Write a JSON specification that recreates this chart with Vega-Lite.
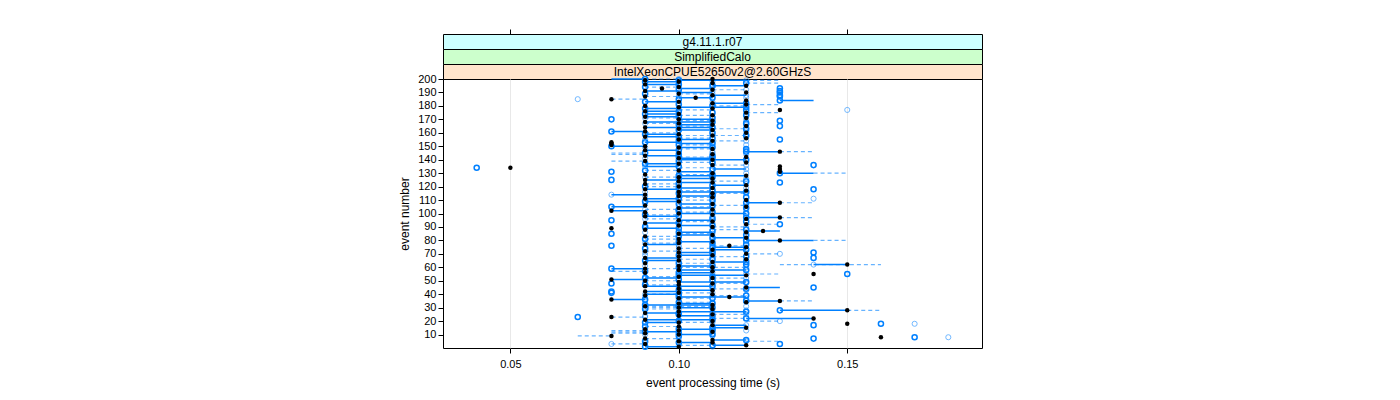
{
"$schema": "https://vega.github.io/schema/vega-lite/v6.json",
"background": "white",
"padding": {"left": 398, "top": 28, "right": 5, "bottom": 5},
"spacing": 0,
"bounds": "flush",
"config": {
  "font": "Liberation Sans",
  "view": {"stroke": "black", "strokeWidth": 1},
  "axis": {"labelFont": "Liberation Sans", "titleFont": "Liberation Sans", "labelColor": "black", "titleColor": "black", "tickColor": "black", "titleFontWeight": "normal", "labelFontSize": 11, "titleFontSize": 12, "domain": false}
},
"datasets": {
"ev": [
{"e":1,"b":0.10,"s":0.09,"d":0.11},{"e":2,"b":0.12,"s":0.11,"d":0.10},{"e":3,"b":0.09,"s":0.13,"d":0.08},{"e":4,"b":0.11,"s":0.10,"d":0.09},{"e":5,"b":0.10,"s":0.09,"d":0.12},
{"e":6,"b":0.11,"s":0.12,"d":0.09},{"e":7,"b":0.09,"s":0.14,"d":0.10},{"e":8,"b":0.16,"s":0.17,"d":0.18},{"e":9,"b":0.08,"s":0.10,"d":0.11},{"e":10,"b":0.10,"s":0.11,"d":0.09},
{"e":11,"b":0.09,"s":0.10,"d":0.11},{"e":12,"b":0.11,"s":0.09,"d":0.10},{"e":13,"b":0.10,"s":0.11,"d":0.12},{"e":14,"b":0.09,"s":0.10,"d":0.11},{"e":15,"b":0.12,"s":0.11,"d":0.10},
{"e":16,"b":0.10,"s":0.09,"d":0.11},{"e":17,"b":0.11,"s":0.14,"d":0.12},{"e":18,"b":0.15,"s":0.16,"d":0.17},{"e":19,"b":0.10,"s":0.09,"d":0.11},{"e":20,"b":0.11,"s":0.10,"d":0.13},
{"e":21,"b":0.09,"s":0.11,"d":0.10},{"e":22,"b":0.14,"s":0.12,"d":0.11},{"e":23,"b":0.08,"s":0.07,"d":0.09},{"e":24,"b":0.10,"s":0.11,"d":0.09},{"e":25,"b":0.11,"s":0.10,"d":0.12},
{"e":26,"b":0.09,"s":0.10,"d":0.11},{"e":27,"b":0.10,"s":0.12,"d":0.11},{"e":28,"b":0.15,"s":0.13,"d":0.12},{"e":29,"b":0.11,"s":0.09,"d":0.10},{"e":30,"b":0.10,"s":0.11,"d":0.09},
{"e":31,"b":0.09,"s":0.10,"d":0.12},{"e":32,"b":0.11,"s":0.09,"d":0.10},{"e":33,"b":0.10,"s":0.11,"d":0.09},{"e":34,"b":0.12,"s":0.10,"d":0.11},{"e":35,"b":0.13,"s":0.12,"d":0.09},
{"e":36,"b":0.08,"s":0.09,"d":0.10},{"e":37,"b":0.10,"s":0.11,"d":0.12},{"e":38,"b":0.115,"s":0.10,"d":0.09},{"e":39,"b":0.09,"s":0.12,"d":0.11},{"e":40,"b":0.11,"s":0.10,"d":0.09},
{"e":41,"b":0.10,"s":0.08,"d":0.11},{"e":42,"b":0.09,"s":0.08,"d":0.10},{"e":43,"b":0.11,"s":0.10,"d":0.12},{"e":44,"b":0.10,"s":0.12,"d":0.11},{"e":45,"b":0.12,"s":0.14,"d":0.10},
{"e":46,"b":0.09,"s":0.11,"d":0.10},{"e":47,"b":0.10,"s":0.09,"d":0.11},{"e":48,"b":0.11,"s":0.08,"d":0.12},{"e":49,"b":0.10,"s":0.12,"d":0.09},{"e":50,"b":0.09,"s":0.11,"d":0.10},
{"e":51,"b":0.08,"s":0.10,"d":0.11},{"e":52,"b":0.11,"s":0.09,"d":0.12},{"e":53,"b":0.10,"s":0.11,"d":0.09},{"e":54,"b":0.12,"s":0.10,"d":0.11},{"e":55,"b":0.14,"s":0.15,"d":0.12},
{"e":56,"b":0.09,"s":0.10,"d":0.11},{"e":57,"b":0.11,"s":0.09,"d":0.10},{"e":58,"b":0.10,"s":0.12,"d":0.11},{"e":59,"b":0.09,"s":0.08,"d":0.10},{"e":60,"b":0.11,"s":0.10,"d":0.12},
{"e":61,"b":0.10,"s":0.11,"d":0.09},{"e":62,"b":0.15,"s":0.12,"d":0.14},{"e":63,"b":0.09,"s":0.10,"d":0.11},{"e":64,"b":0.11,"s":0.12,"d":0.10},{"e":65,"b":0.10,"s":0.09,"d":0.12},
{"e":66,"b":0.12,"s":0.11,"d":0.10},{"e":67,"b":0.09,"s":0.14,"d":0.11},{"e":68,"b":0.10,"s":0.12,"d":0.11},{"e":69,"b":0.11,"s":0.10,"d":0.09},{"e":70,"b":0.12,"s":0.11,"d":0.13},
{"e":71,"b":0.10,"s":0.14,"d":0.09},{"e":72,"b":0.09,"s":0.11,"d":0.10},{"e":73,"b":0.11,"s":0.12,"d":0.10},{"e":74,"b":0.10,"s":0.09,"d":0.12},{"e":75,"b":0.12,"s":0.11,"d":0.10},
{"e":76,"b":0.115,"s":0.08,"d":0.10},{"e":77,"b":0.09,"s":0.12,"d":0.11},{"e":78,"b":0.10,"s":0.11,"d":0.09},{"e":79,"b":0.11,"s":0.10,"d":0.12},{"e":80,"b":0.13,"s":0.12,"d":0.11},
{"e":81,"b":0.10,"s":0.09,"d":0.11},{"e":82,"b":0.12,"s":0.11,"d":0.10},{"e":83,"b":0.09,"s":0.10,"d":0.12},{"e":84,"b":0.11,"s":0.12,"d":0.10},{"e":85,"b":0.10,"s":0.08,"d":0.11},
{"e":86,"b":0.12,"s":0.10,"d":0.09},{"e":87,"b":0.125,"s":0.11,"d":0.10},{"e":88,"b":0.09,"s":0.12,"d":0.11},{"e":89,"b":0.08,"s":0.10,"d":0.09},{"e":90,"b":0.11,"s":0.09,"d":0.12},
{"e":91,"b":0.10,"s":0.11,"d":0.09},{"e":92,"b":0.12,"s":0.13,"d":0.10},{"e":93,"b":0.09,"s":0.10,"d":0.11},{"e":94,"b":0.11,"s":0.12,"d":0.10},{"e":95,"b":0.10,"s":0.08,"d":0.11},
{"e":96,"b":0.12,"s":0.11,"d":0.09},{"e":97,"b":0.13,"s":0.12,"d":0.11},{"e":98,"b":0.09,"s":0.10,"d":0.11},{"e":99,"b":0.11,"s":0.09,"d":0.10},{"e":100,"b":0.10,"s":0.12,"d":0.11},
{"e":101,"b":0.09,"s":0.11,"d":0.10},{"e":102,"b":0.08,"s":0.10,"d":0.12},{"e":103,"b":0.11,"s":0.10,"d":0.09},{"e":104,"b":0.10,"s":0.12,"d":0.11},{"e":105,"b":0.12,"s":0.08,"d":0.10},
{"e":106,"b":0.09,"s":0.11,"d":0.12},{"e":107,"b":0.11,"s":0.10,"d":0.09},{"e":108,"b":0.13,"s":0.12,"d":0.11},{"e":109,"b":0.10,"s":0.09,"d":0.11},{"e":110,"b":0.12,"s":0.11,"d":0.10},
{"e":111,"b":0.09,"s":0.10,"d":0.14},{"e":112,"b":0.11,"s":0.12,"d":0.10},{"e":113,"b":0.10,"s":0.11,"d":0.09},{"e":114,"b":0.09,"s":0.11,"d":0.08},{"e":115,"b":0.11,"s":0.10,"d":0.12},
{"e":116,"b":0.10,"s":0.12,"d":0.09},{"e":117,"b":0.12,"s":0.11,"d":0.10},{"e":118,"b":0.09,"s":0.14,"d":0.11},{"e":119,"b":0.11,"s":0.10,"d":0.12},{"e":120,"b":0.10,"s":0.09,"d":0.11},
{"e":121,"b":0.12,"s":0.11,"d":0.10},{"e":122,"b":0.09,"s":0.10,"d":0.12},{"e":123,"b":0.11,"s":0.13,"d":0.10},{"e":124,"b":0.10,"s":0.12,"d":0.11},{"e":125,"b":0.09,"s":0.08,"d":0.10},
{"e":126,"b":0.11,"s":0.10,"d":0.12},{"e":127,"b":0.10,"s":0.11,"d":0.09},{"e":128,"b":0.12,"s":0.10,"d":0.11},{"e":129,"b":0.09,"s":0.11,"d":0.10},{"e":130,"b":0.11,"s":0.13,"d":0.12},
{"e":131,"b":0.13,"s":0.08,"d":0.10},{"e":132,"b":0.10,"s":0.09,"d":0.11},{"e":133,"b":0.13,"s":0.11,"d":0.12},{"e":134,"b":0.05,"s":0.04,"d":0.10},{"e":135,"b":0.13,"s":0.10,"d":0.09},
{"e":136,"b":0.11,"s":0.14,"d":0.12},{"e":137,"b":0.10,"s":0.09,"d":0.11},{"e":138,"b":0.12,"s":0.11,"d":0.10},{"e":139,"b":0.09,"s":0.10,"d":0.12},{"e":140,"b":0.11,"s":0.12,"d":0.10},
{"e":141,"b":0.10,"s":0.11,"d":0.09},{"e":142,"b":0.12,"s":0.10,"d":0.11},{"e":143,"b":0.09,"s":0.11,"d":0.10},{"e":144,"b":0.11,"s":0.10,"d":0.12},{"e":145,"b":0.10,"s":0.09,"d":0.11},
{"e":146,"b":0.13,"s":0.12,"d":0.11},{"e":147,"b":0.09,"s":0.10,"d":0.12},{"e":148,"b":0.11,"s":0.12,"d":0.10},{"e":149,"b":0.10,"s":0.11,"d":0.09},{"e":150,"b":0.09,"s":0.08,"d":0.11},
{"e":151,"b":0.08,"s":0.10,"d":0.12},{"e":152,"b":0.08,"s":0.11,"d":0.10},{"e":153,"b":0.08,"s":0.09,"d":0.11},{"e":154,"b":0.11,"s":0.10,"d":0.12},{"e":155,"b":0.10,"s":0.13,"d":0.09},
{"e":156,"b":0.12,"s":0.11,"d":0.10},{"e":157,"b":0.09,"s":0.10,"d":0.12},{"e":158,"b":0.11,"s":0.12,"d":0.10},{"e":159,"b":0.10,"s":0.09,"d":0.11},{"e":160,"b":0.12,"s":0.11,"d":0.09},
{"e":161,"b":0.09,"s":0.08,"d":0.12},{"e":162,"b":0.11,"s":0.10,"d":0.12},{"e":163,"b":0.10,"s":0.12,"d":0.11},{"e":164,"b":0.09,"s":0.11,"d":0.10},{"e":165,"b":0.12,"s":0.13,"d":0.10},
{"e":166,"b":0.11,"s":0.10,"d":0.12},{"e":167,"b":0.10,"s":0.12,"d":0.09},{"e":168,"b":0.09,"s":0.11,"d":0.12},{"e":169,"b":0.11,"s":0.13,"d":0.10},{"e":170,"b":0.10,"s":0.08,"d":0.12},
{"e":171,"b":0.12,"s":0.11,"d":0.09},{"e":172,"b":0.09,"s":0.10,"d":0.11},{"e":173,"b":0.11,"s":0.12,"d":0.10},{"e":174,"b":0.10,"s":0.09,"d":0.12},{"e":175,"b":0.12,"s":0.11,"d":0.10},
{"e":176,"b":0.09,"s":0.10,"d":0.12},{"e":177,"b":0.13,"s":0.12,"d":0.15},{"e":178,"b":0.11,"s":0.09,"d":0.10},{"e":179,"b":0.10,"s":0.12,"d":0.11},{"e":180,"b":0.09,"s":0.11,"d":0.12},
{"e":181,"b":0.12,"s":0.10,"d":0.11},{"e":182,"b":0.11,"s":0.12,"d":0.10},{"e":183,"b":0.10,"s":0.09,"d":0.11},{"e":184,"b":0.12,"s":0.13,"d":0.10},{"e":185,"b":0.08,"s":0.10,"d":0.07},
{"e":186,"b":0.105,"s":0.11,"d":0.12},{"e":187,"b":0.09,"s":0.13,"d":0.10},{"e":188,"b":0.11,"s":0.13,"d":0.12},{"e":189,"b":0.10,"s":0.09,"d":0.11},{"e":190,"b":0.12,"s":0.13,"d":0.10},
{"e":191,"b":0.09,"s":0.13,"d":0.11},{"e":192,"b":0.11,"s":0.10,"d":0.12},{"e":193,"b":0.095,"s":0.13,"d":0.10},{"e":194,"b":0.10,"s":0.09,"d":0.11},{"e":195,"b":0.12,"s":0.11,"d":0.10},
{"e":196,"b":0.09,"s":0.10,"d":0.11},{"e":197,"b":0.11,"s":0.12,"d":0.10},{"e":198,"b":0.10,"s":0.09,"d":0.11},{"e":199,"b":0.09,"s":0.10,"d":0.12},{"e":200,"b":0.11,"s":0.09,"d":0.10}
],
"seg": [
{"e":1,"a":0.09,"z":0.10,"k":"s"},{"e":2,"a":0.11,"z":0.12,"k":"s"},{"e":4,"a":0.10,"z":0.11,"k":"s"},{"e":6,"a":0.11,"z":0.12,"k":"s"},{"e":10,"a":0.10,"z":0.11,"k":"s"},
{"e":12,"a":0.09,"z":0.10,"k":"s"},{"e":14,"a":0.10,"z":0.11,"k":"s"},{"e":15,"a":0.11,"z":0.12,"k":"s"},{"e":17,"a":0.11,"z":0.12,"k":"s"},{"e":19,"a":0.09,"z":0.10,"k":"s"},
{"e":21,"a":0.09,"z":0.11,"k":"s"},{"e":22,"a":0.12,"z":0.14,"k":"s"},{"e":24,"a":0.10,"z":0.11,"k":"s"},{"e":26,"a":0.09,"z":0.10,"k":"s"},{"e":27,"a":0.10,"z":0.12,"k":"s"},
{"e":28,"a":0.13,"z":0.15,"k":"s"},{"e":30,"a":0.10,"z":0.11,"k":"s"},{"e":32,"a":0.09,"z":0.11,"k":"s"},{"e":33,"a":0.10,"z":0.11,"k":"s"},{"e":35,"a":0.12,"z":0.13,"k":"s"},
{"e":36,"a":0.08,"z":0.09,"k":"s"},{"e":38,"a":0.10,"z":0.12,"k":"s"},{"e":40,"a":0.09,"z":0.10,"k":"s"},{"e":42,"a":0.09,"z":0.10,"k":"s"},{"e":43,"a":0.10,"z":0.11,"k":"s"},
{"e":45,"a":0.12,"z":0.13,"k":"s"},{"e":46,"a":0.09,"z":0.11,"k":"s"},{"e":49,"a":0.10,"z":0.12,"k":"s"},{"e":51,"a":0.08,"z":0.09,"k":"s"},{"e":52,"a":0.09,"z":0.10,"k":"s"},
{"e":54,"a":0.10,"z":0.12,"k":"s"},{"e":56,"a":0.10,"z":0.11,"k":"s"},{"e":58,"a":0.10,"z":0.12,"k":"s"},{"e":59,"a":0.08,"z":0.09,"k":"s"},{"e":61,"a":0.10,"z":0.11,"k":"s"},
{"e":62,"a":0.14,"z":0.15,"k":"s"},{"e":64,"a":0.11,"z":0.12,"k":"s"},{"e":65,"a":0.09,"z":0.10,"k":"s"},{"e":67,"a":0.09,"z":0.10,"k":"s"},{"e":69,"a":0.10,"z":0.11,"k":"s"},
{"e":71,"a":0.10,"z":0.11,"k":"s"},{"e":73,"a":0.11,"z":0.12,"k":"s"},{"e":75,"a":0.11,"z":0.12,"k":"s"},{"e":77,"a":0.09,"z":0.10,"k":"s"},{"e":79,"a":0.10,"z":0.11,"k":"s"},
{"e":80,"a":0.12,"z":0.14,"k":"s"},{"e":82,"a":0.11,"z":0.12,"k":"s"},{"e":84,"a":0.10,"z":0.11,"k":"s"},{"e":86,"a":0.10,"z":0.11,"k":"s"},{"e":87,"a":0.12,"z":0.13,"k":"s"},
{"e":89,"a":0.09,"z":0.10,"k":"s"},{"e":91,"a":0.10,"z":0.11,"k":"s"},{"e":93,"a":0.09,"z":0.10,"k":"s"},{"e":95,"a":0.10,"z":0.11,"k":"s"},{"e":97,"a":0.12,"z":0.13,"k":"s"},
{"e":98,"a":0.09,"z":0.10,"k":"s"},{"e":100,"a":0.10,"z":0.12,"k":"s"},{"e":102,"a":0.08,"z":0.09,"k":"s"},{"e":104,"a":0.10,"z":0.11,"k":"s"},{"e":105,"a":0.08,"z":0.09,"k":"s"},
{"e":107,"a":0.10,"z":0.11,"k":"s"},{"e":108,"a":0.12,"z":0.13,"k":"s"},{"e":109,"a":0.09,"z":0.10,"k":"s"},{"e":111,"a":0.09,"z":0.10,"k":"s"},{"e":113,"a":0.10,"z":0.11,"k":"s"},
{"e":114,"a":0.08,"z":0.09,"k":"s"},{"e":116,"a":0.10,"z":0.12,"k":"s"},{"e":118,"a":0.09,"z":0.10,"k":"s"},{"e":119,"a":0.10,"z":0.11,"k":"s"},{"e":121,"a":0.11,"z":0.12,"k":"s"},
{"e":123,"a":0.10,"z":0.11,"k":"s"},{"e":125,"a":0.09,"z":0.10,"k":"s"},{"e":126,"a":0.10,"z":0.11,"k":"s"},{"e":128,"a":0.10,"z":0.12,"k":"s"},{"e":130,"a":0.13,"z":0.14,"k":"s"},
{"e":131,"a":0.10,"z":0.11,"k":"s"},{"e":133,"a":0.11,"z":0.12,"k":"s"},{"e":135,"a":0.09,"z":0.10,"k":"s"},{"e":137,"a":0.09,"z":0.10,"k":"s"},{"e":140,"a":0.10,"z":0.12,"k":"s"},
{"e":141,"a":0.10,"z":0.11,"k":"s"},{"e":143,"a":0.09,"z":0.10,"k":"s"},{"e":146,"a":0.12,"z":0.13,"k":"s"},{"e":147,"a":0.09,"z":0.10,"k":"s"},{"e":149,"a":0.10,"z":0.11,"k":"s"},
{"e":150,"a":0.08,"z":0.09,"k":"s"},{"e":152,"a":0.10,"z":0.11,"k":"s"},{"e":153,"a":0.09,"z":0.10,"k":"s"},{"e":155,"a":0.10,"z":0.11,"k":"s"},{"e":157,"a":0.09,"z":0.10,"k":"s"},
{"e":159,"a":0.09,"z":0.10,"k":"s"},{"e":161,"a":0.08,"z":0.09,"k":"s"},{"e":162,"a":0.10,"z":0.11,"k":"s"},{"e":164,"a":0.09,"z":0.11,"k":"s"},{"e":166,"a":0.10,"z":0.11,"k":"s"},
{"e":168,"a":0.09,"z":0.11,"k":"s"},{"e":170,"a":0.10,"z":0.11,"k":"s"},{"e":172,"a":0.09,"z":0.10,"k":"s"},{"e":174,"a":0.09,"z":0.10,"k":"s"},{"e":176,"a":0.09,"z":0.10,"k":"s"},
{"e":178,"a":0.09,"z":0.10,"k":"s"},{"e":179,"a":0.10,"z":0.12,"k":"s"},{"e":182,"a":0.11,"z":0.12,"k":"s"},{"e":183,"a":0.09,"z":0.10,"k":"s"},{"e":184,"a":0.13,"z":0.14,"k":"s"},
{"e":186,"a":0.10,"z":0.11,"k":"s"},{"e":188,"a":0.11,"z":0.12,"k":"s"},{"e":190,"a":0.10,"z":0.11,"k":"s"},{"e":191,"a":0.09,"z":0.10,"k":"s"},{"e":193,"a":0.10,"z":0.11,"k":"s"},
{"e":195,"a":0.11,"z":0.12,"k":"s"},{"e":196,"a":0.09,"z":0.10,"k":"s"},{"e":198,"a":0.09,"z":0.10,"k":"s"},{"e":199,"a":0.10,"z":0.12,"k":"s"},{"e":200,"a":0.08,"z":0.09,"k":"s"},
{"e":2,"a":0.10,"z":0.11,"k":"d"},{"e":3,"a":0.08,"z":0.09,"k":"d"},{"e":5,"a":0.12,"z":0.13,"k":"d"},{"e":7,"a":0.09,"z":0.10,"k":"d"},{"e":9,"a":0.07,"z":0.08,"k":"d"},
{"e":11,"a":0.08,"z":0.09,"k":"d"},{"e":12,"a":0.08,"z":0.09,"k":"d"},{"e":13,"a":0.08,"z":0.09,"k":"d"},{"e":16,"a":0.09,"z":0.10,"k":"d"},{"e":19,"a":0.10,"z":0.11,"k":"d"},
{"e":20,"a":0.12,"z":0.13,"k":"d"},{"e":22,"a":0.11,"z":0.12,"k":"d"},{"e":23,"a":0.08,"z":0.09,"k":"d"},{"e":25,"a":0.11,"z":0.12,"k":"d"},{"e":28,"a":0.15,"z":0.16,"k":"d"},
{"e":29,"a":0.09,"z":0.10,"k":"d"},{"e":30,"a":0.09,"z":0.10,"k":"d"},{"e":31,"a":0.09,"z":0.11,"k":"d"},{"e":34,"a":0.10,"z":0.11,"k":"d"},{"e":35,"a":0.13,"z":0.14,"k":"d"},
{"e":37,"a":0.10,"z":0.11,"k":"d"},{"e":39,"a":0.11,"z":0.12,"k":"d"},{"e":40,"a":0.09,"z":0.10,"k":"d"},{"e":41,"a":0.10,"z":0.11,"k":"d"},{"e":44,"a":0.11,"z":0.12,"k":"d"},
{"e":47,"a":0.09,"z":0.10,"k":"d"},{"e":48,"a":0.11,"z":0.12,"k":"d"},{"e":50,"a":0.09,"z":0.10,"k":"d"},{"e":52,"a":0.11,"z":0.12,"k":"d"},{"e":53,"a":0.09,"z":0.10,"k":"d"},
{"e":55,"a":0.12,"z":0.13,"k":"d"},{"e":57,"a":0.08,"z":0.09,"k":"d"},{"e":59,"a":0.09,"z":0.10,"k":"d"},{"e":60,"a":0.10,"z":0.12,"k":"d"},{"e":62,"a":0.13,"z":0.16,"k":"d"},
{"e":63,"a":0.10,"z":0.11,"k":"d"},{"e":66,"a":0.10,"z":0.11,"k":"d"},{"e":68,"a":0.11,"z":0.12,"k":"d"},{"e":70,"a":0.12,"z":0.13,"k":"d"},{"e":72,"a":0.09,"z":0.10,"k":"d"},
{"e":74,"a":0.10,"z":0.11,"k":"d"},{"e":76,"a":0.11,"z":0.12,"k":"d"},{"e":78,"a":0.09,"z":0.10,"k":"d"},{"e":80,"a":0.14,"z":0.15,"k":"d"},{"e":81,"a":0.09,"z":0.10,"k":"d"},
{"e":83,"a":0.09,"z":0.10,"k":"d"},{"e":85,"a":0.10,"z":0.11,"k":"d"},{"e":88,"a":0.11,"z":0.12,"k":"d"},{"e":90,"a":0.11,"z":0.12,"k":"d"},{"e":92,"a":0.12,"z":0.13,"k":"d"},
{"e":94,"a":0.10,"z":0.11,"k":"d"},{"e":96,"a":0.09,"z":0.10,"k":"d"},{"e":97,"a":0.13,"z":0.14,"k":"d"},{"e":99,"a":0.09,"z":0.10,"k":"d"},{"e":101,"a":0.10,"z":0.11,"k":"d"},
{"e":103,"a":0.09,"z":0.10,"k":"d"},{"e":105,"a":0.10,"z":0.11,"k":"d"},{"e":106,"a":0.11,"z":0.12,"k":"d"},{"e":108,"a":0.13,"z":0.14,"k":"d"},{"e":110,"a":0.10,"z":0.11,"k":"d"},
{"e":112,"a":0.10,"z":0.11,"k":"d"},{"e":115,"a":0.11,"z":0.12,"k":"d"},{"e":117,"a":0.10,"z":0.11,"k":"d"},{"e":120,"a":0.09,"z":0.10,"k":"d"},{"e":122,"a":0.09,"z":0.10,"k":"d"},
{"e":124,"a":0.11,"z":0.12,"k":"d"},{"e":127,"a":0.09,"z":0.10,"k":"d"},{"e":129,"a":0.10,"z":0.11,"k":"d"},{"e":130,"a":0.14,"z":0.15,"k":"d"},{"e":132,"a":0.09,"z":0.10,"k":"d"},
{"e":134,"a":0.10,"z":0.11,"k":"d"},{"e":136,"a":0.11,"z":0.12,"k":"d"},{"e":138,"a":0.10,"z":0.11,"k":"d"},{"e":139,"a":0.08,"z":0.09,"k":"d"},{"e":142,"a":0.10,"z":0.11,"k":"d"},
{"e":144,"a":0.08,"z":0.09,"k":"d"},{"e":145,"a":0.08,"z":0.09,"k":"d"},{"e":146,"a":0.13,"z":0.14,"k":"d"},{"e":148,"a":0.10,"z":0.11,"k":"d"},{"e":151,"a":0.10,"z":0.11,"k":"d"},
{"e":154,"a":0.11,"z":0.12,"k":"d"},{"e":156,"a":0.10,"z":0.11,"k":"d"},{"e":158,"a":0.10,"z":0.12,"k":"d"},{"e":160,"a":0.09,"z":0.10,"k":"d"},{"e":163,"a":0.11,"z":0.12,"k":"d"},
{"e":165,"a":0.10,"z":0.11,"k":"d"},{"e":167,"a":0.09,"z":0.10,"k":"d"},{"e":169,"a":0.10,"z":0.11,"k":"d"},{"e":171,"a":0.09,"z":0.10,"k":"d"},{"e":173,"a":0.10,"z":0.11,"k":"d"},
{"e":175,"a":0.12,"z":0.13,"k":"d"},{"e":177,"a":0.10,"z":0.11,"k":"d"},{"e":180,"a":0.11,"z":0.12,"k":"d"},{"e":181,"a":0.12,"z":0.13,"k":"d"},{"e":185,"a":0.08,"z":0.09,"k":"d"},
{"e":187,"a":0.09,"z":0.10,"k":"d"},{"e":189,"a":0.10,"z":0.11,"k":"d"},{"e":192,"a":0.11,"z":0.12,"k":"d"},{"e":194,"a":0.09,"z":0.10,"k":"d"},{"e":197,"a":0.12,"z":0.13,"k":"d"},
{"e":199,"a":0.12,"z":0.13,"k":"d"},{"e":200,"a":0.09,"z":0.10,"k":"d"}
],
"s1": [{"label": "g4.11.1.r07"}],
"s2": [{"label": "SimplifiedCalo"}],
"s3": [{"label": "IntelXeonCPUE52650v2@2.60GHzS"}]
},
"vconcat": [
{
  "width": 539, "height": 15,
  "view": {"fill": "#ccffff", "stroke": "black"},
  "data": {"name": "s1"},
  "layer": [
    {"mark": {"type": "text", "fontSize": 12, "color": "black", "baseline": "middle", "align": "center"}, "encoding": {"text": {"field": "label"}}},
    {"mark": {"type": "rule", "opacity": 0}, "encoding": {"x": {"datum": 0.1, "type": "quantitative", "scale": {"domain": [0.03, 0.19], "nice": false, "zero": false}, "axis": {"orient": "top", "values": [0.05, 0.1, 0.15], "labels": false, "ticks": true, "tickSize": 5, "grid": false, "title": null}}}}
  ]
},
{
  "width": 539, "height": 15,
  "view": {"fill": "#ccffcc", "stroke": "black"},
  "data": {"name": "s2"},
  "mark": {"type": "text", "fontSize": 12, "color": "black", "baseline": "middle", "align": "center"},
  "encoding": {"text": {"field": "label"}}
},
{
  "width": 539, "height": 15,
  "view": {"fill": "#ffe5cc", "stroke": "black"},
  "data": {"name": "s3"},
  "mark": {"type": "text", "fontSize": 12, "color": "black", "baseline": "middle", "align": "center"},
  "encoding": {"text": {"field": "label"}}
},
{
  "width": 539, "height": 269,
  "view": {"stroke": "black", "fill": "white"},
  "encoding": {
    "y": {"type": "quantitative", "scale": {"domain": [0, 200], "nice": false, "zero": false},
          "axis": {"title": "event number", "values": [10,20,30,40,50,60,70,80,90,100,110,120,130,140,150,160,170,180,190,200], "tickSize": 5, "labelPadding": 2, "titlePadding": 6, "grid": false}}
  },
  "layer": [
    {
      "data": {"name": "seg"},
      "transform": [{"filter": "datum.k == 's'"}],
      "mark": {"type": "rule", "color": "#0080ff", "strokeWidth": 1.5},
      "encoding": {
        "x": {"field": "a", "type": "quantitative", "scale": {"domain": [0.03, 0.19], "nice": false, "zero": false},
              "axis": {"title": "event processing time (s)", "values": [0.05, 0.1, 0.15], "format": ".2f", "tickSize": 5, "labelPadding": 5, "titlePadding": 8, "grid": true, "gridColor": "#e8e8e8", "gridWidth": 1}},
        "x2": {"field": "z"},
        "y": {"field": "e"}
      }
    },
    {
      "data": {"name": "seg"},
      "transform": [{"filter": "datum.k == 'd'"}],
      "mark": {"type": "rule", "color": "#0080ff", "strokeWidth": 1.2, "strokeDash": [4, 3], "opacity": 0.6},
      "encoding": {"x": {"field": "a", "type": "quantitative"}, "x2": {"field": "z"}, "y": {"field": "e"}}
    },
    {
      "data": {"name": "ev"},
      "mark": {"type": "point", "shape": "circle", "filled": false, "color": "#0080ff", "strokeWidth": 1, "size": 26, "opacity": 0.55},
      "encoding": {"x": {"field": "d", "type": "quantitative"}, "y": {"field": "e"}}
    },
    {
      "data": {"name": "ev"},
      "mark": {"type": "point", "shape": "circle", "filled": false, "color": "#0080ff", "strokeWidth": 1.5, "size": 26, "opacity": 1},
      "encoding": {"x": {"field": "s", "type": "quantitative"}, "y": {"field": "e"}}
    },
    {
      "data": {"name": "ev"},
      "mark": {"type": "point", "shape": "circle", "filled": true, "color": "black", "size": 20, "opacity": 1},
      "encoding": {"x": {"field": "b", "type": "quantitative"}, "y": {"field": "e"}}
    }
  ]
}
]
}
